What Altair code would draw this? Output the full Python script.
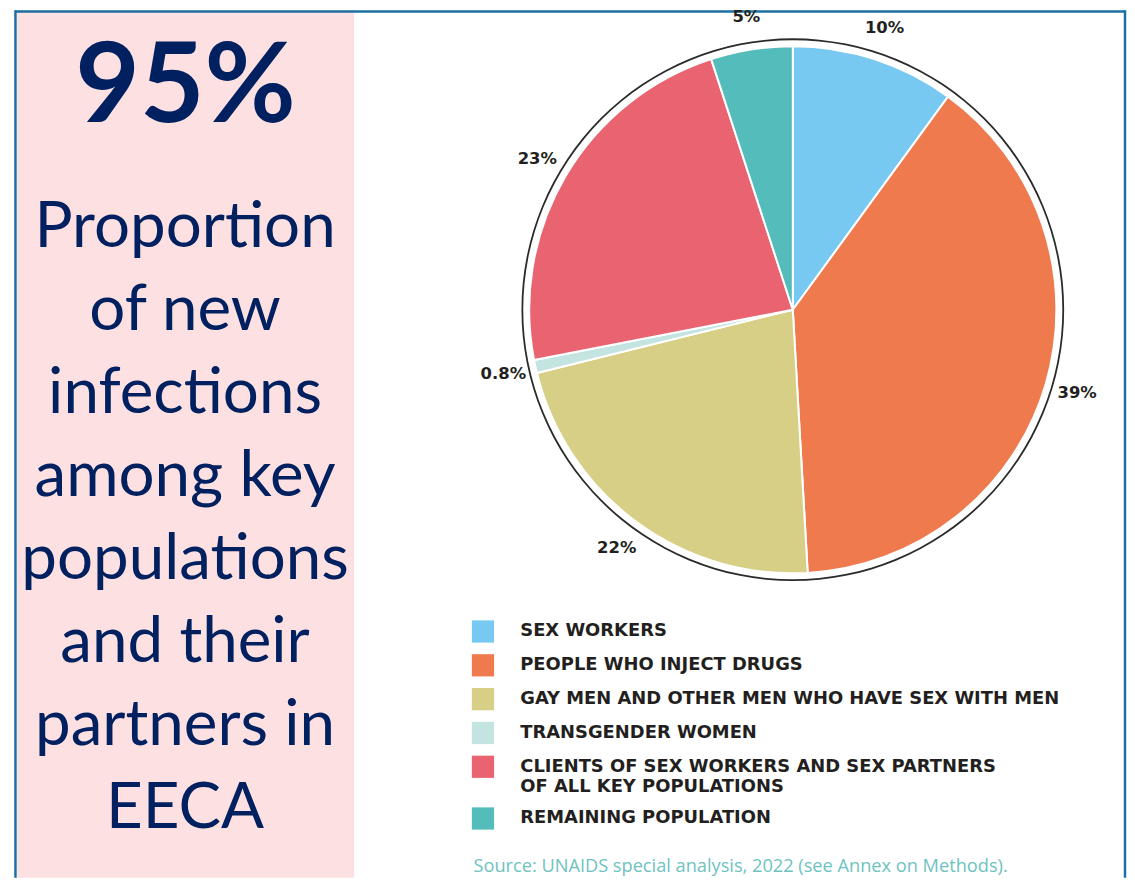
import altair as alt
import pandas as pd

# ---------------- data ----------------
CATEGORIES = [
    "SEX WORKERS",
    "PEOPLE WHO INJECT DRUGS",
    "GAY MEN AND OTHER MEN WHO HAVE SEX WITH MEN",
    "TRANSGENDER WOMEN",
    "CLIENTS OF SEX WORKERS AND SEX PARTNERS OF ALL KEY POPULATIONS",
    "REMAINING POPULATION",
]
SHARES = [10, 39, 22, 0.8, 23, 5]
SHARE_LABELS = ["10%", "39%", "22%", "0.8%", "23%", "5%"]
COLORS = ["#78C9F1", "#EE7A4E", "#D7CF85", "#C4E4E1", "#E96470", "#54BCBB"]

HEADLINE = "95%"
BODY_LINES = ["Proportion", "of new", "infections", "among key",
              "populations", "and their", "partners in", "EECA"]
SOURCE = "Source: UNAIDS special analysis, 2022 (see Annex on Methods)."
LONG_LABEL = CATEGORIES[4]
LONG_LABEL_LINES = ["CLIENTS OF SEX WORKERS AND SEX PARTNERS", "OF ALL KEY POPULATIONS"]

# ---------------- layout ----------------
W, H = 1125, 872
CX, CY = 789, 301
NAVY = "#002060"
INK = "#231F20"
BLUE = "#1B6FA3"

df = pd.DataFrame({
    "category": CATEGORIES,
    "share": SHARES,
    "label": SHARE_LABELS,
    "rank": list(range(len(CATEGORIES))),
})
one = pd.DataFrame({"k": [0]})

label_expr = (
    "datum.label == '" + LONG_LABEL + "' ? ['" + "', '".join(LONG_LABEL_LINES) + "'] : datum.label"
)

pink = alt.Chart(one).mark_rect(color="#FDE0E1").encode(
    x=alt.value(9), x2=alt.value(348), y=alt.value(0), y2=alt.value(H)
)
top_border = alt.Chart(one).mark_rule(color=BLUE, strokeWidth=2.5).encode(
    x=alt.value(7), x2=alt.value(1123), y=alt.value(1.2)
)
left_border = alt.Chart(one).mark_rule(color=BLUE, strokeWidth=2.5).encode(
    x=alt.value(7.5), y=alt.value(0), y2=alt.value(H)
)
right_border = alt.Chart(one).mark_rule(color=BLUE, strokeWidth=2.5).encode(
    x=alt.value(1123), y=alt.value(0), y2=alt.value(H)
)

ring = alt.Chart(one).mark_arc(
    innerRadius=271, outerRadius=272.8, theta=0, theta2=6.2832, color="#2B2B2B"
).encode(x=alt.value(CX), y=alt.value(CY))

pie = alt.Chart(df).mark_arc(outerRadius=265, stroke="white", strokeWidth=2).encode(
    theta=alt.Theta("share:Q", stack=True),
    order=alt.Order("rank:Q"),
    color=alt.Color(
        "category:N",
        scale=alt.Scale(domain=CATEGORIES, range=COLORS),
        legend=alt.Legend(
            orient="none", legendX=466, legendY=613, title=None,
            symbolType="square", symbolSize=500, symbolStrokeWidth=0,
            symbolOpacity=1,
            labelFont="DejaVu Sans", labelFontWeight="bold", labelFontSize=18,
            labelColor=INK, labelLimit=800, labelOffset=26, rowPadding=11,
            padding=0, labelExpr=label_expr,
        ),
    ),
    x=alt.value(CX), y=alt.value(CY),
)

pie_labels = alt.Chart(df).mark_text(
    radius=298, font="DejaVu Sans", fontWeight="bold", fontSize=16.5, color=INK
).encode(
    theta=alt.Theta("share:Q", stack=True),
    order=alt.Order("rank:Q"),
    text="label:N",
    x=alt.value(CX), y=alt.value(CY),
)

headline = alt.Chart(one).mark_text(
    font="Lato", fontWeight="bold", fontSize=112, color=NAVY,
    align="center", baseline="alphabetic",
).encode(text=alt.value(HEADLINE), x=alt.value(178.5), y=alt.value(112))

body = alt.Chart(one).mark_text(
    font="Lato", fontSize=64, lineHeight=83.4, color=NAVY,
    align="center", baseline="alphabetic",
).encode(text=alt.value(BODY_LINES), x=alt.value(178), y=alt.value(238))

source = alt.Chart(one).mark_text(
    font="Open Sans", fontSize=18.3, color="#6EC3C1", align="left", baseline="middle",
).encode(text=alt.value(SOURCE), x=alt.value(468), y=alt.value(861))

chart = alt.layer(
    pink, top_border, left_border, right_border, ring, pie, pie_labels,
    headline, body, source,
).properties(
    width=W, height=H, padding=0, autosize=alt.AutoSizeParams(type="none"),
).configure_view(stroke=None)

chart.save("out.html", embed_options={"renderer": "svg", "actions": False})
